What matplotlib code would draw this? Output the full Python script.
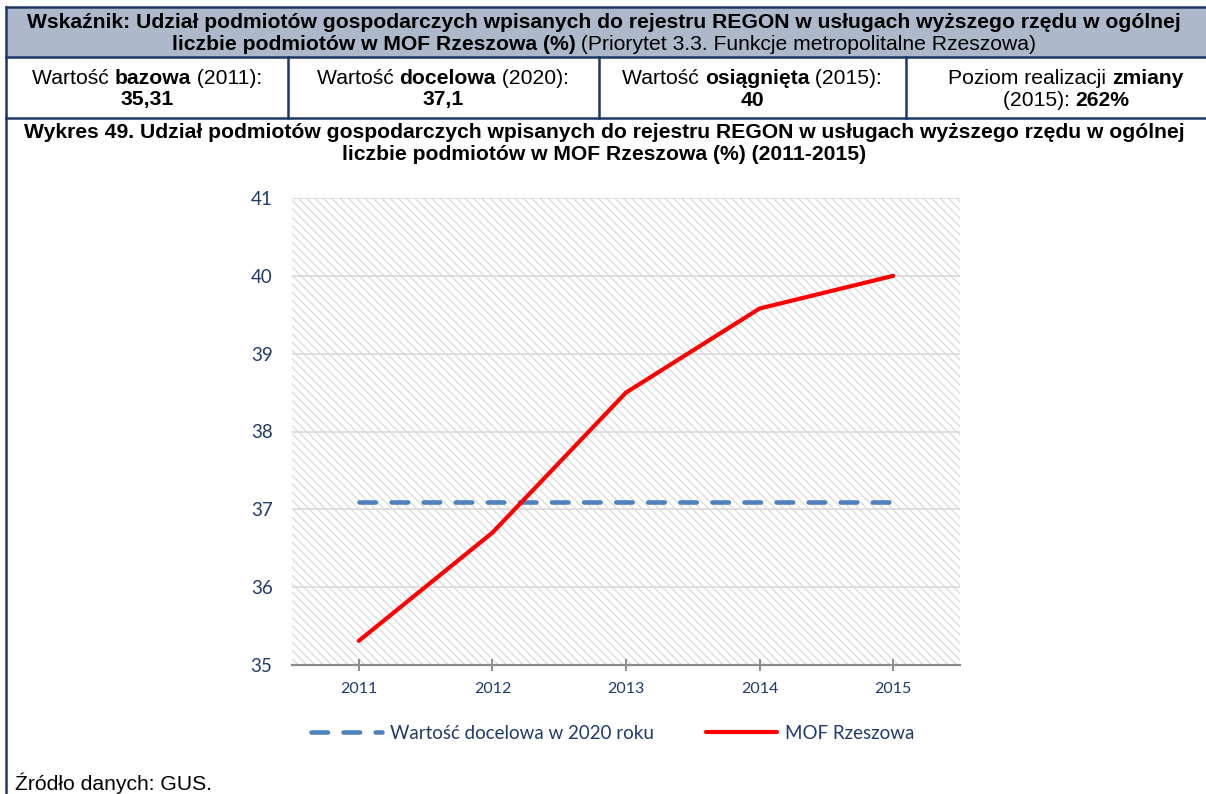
import matplotlib
matplotlib.use('Agg')
import matplotlib.pyplot as plt
from matplotlib.patches import Rectangle
from matplotlib.lines import Line2D

years = ['2011', '2012', '2013', '2014', '2015']
mof_rzeszowa = [35.31, 36.7, 38.5, 39.58, 40.0]
target_2020 = [37.1, 37.1, 37.1, 37.1, 37.1]
y_ticks = [35, 36, 37, 38, 39, 40, 41]

W, H = 1206, 794
NAVY = '#1f3864'
LABEL = '#1f3b6b'
HEAD_BG = '#adb9ca'

fig = plt.figure(figsize=(W / 100, H / 100), dpi=100)
renderer = fig.canvas.get_renderer()


def fx(x):
    return x / W


def fy(y):
    return 1 - y / H


def rich(xc, y, parts, size):
    # parts of mixed weight, centred together at pixel xc
    arts = []
    for txt, wt in parts:
        a = fig.text(0, fy(y), txt, fontsize=size, fontweight=wt, va='center', ha='left',
                     family='Liberation Sans', color='black')
        arts.append(a)
    widths = [a.get_window_extent(renderer).width for a in arts]
    x0 = xc - sum(widths) / 2
    for a, wd in zip(arts, widths):
        a.set_x(fx(x0))
        x0 += wd


# header frame
fig.patches.append(Rectangle((fx(6), fy(57)), fx(1206), 50 / H, transform=fig.transFigure,
                             facecolor=HEAD_BG, edgecolor='none'))
for (x1, y1, x2, y2) in [(6, 7, 1206, 7), (6, 57, 1206, 57), (6, 118, 1206, 118),
                         (6, 7, 6, 794), (288, 57, 288, 118), (599, 57, 599, 118), (906, 57, 906, 118)]:
    fig.add_artist(Line2D([fx(x1), fx(x2)], [fy(y1), fy(y2)], color=NAVY, lw=1.8,
                          transform=fig.transFigure))

hs = 15.2
rich(604, 23, [('Wskaźnik: Udział podmiotów gospodarczych wpisanych do rejestru REGON w usługach wyższego rzędu w ogólnej', 'bold')], hs)
rich(604, 45, [('liczbie podmiotów w MOF Rzeszowa (%)', 'bold'), (' (Priorytet 3.3. Funkcje metropolitalne Rzeszowa)', 'normal')], hs)

rich(147, 78, [('Wartość ', 'normal'), ('bazowa', 'bold'), (' (2011):', 'normal')], hs)
rich(147, 100, [('35,31', 'bold')], hs)
rich(443, 78, [('Wartość ', 'normal'), ('docelowa', 'bold'), (' (2020):', 'normal')], hs)
rich(443, 100, [('37,1', 'bold')], hs)
rich(752, 78, [('Wartość ', 'normal'), ('osiągnięta', 'bold'), (' (2015):', 'normal')], hs)
rich(752, 100, [('40', 'bold')], hs)
rich(1066, 78, [('Poziom realizacji ', 'normal'), ('zmiany', 'bold')], hs)
rich(1066, 100, [('(2015): ', 'normal'), ('262%', 'bold')], hs)

rich(604, 133, [('Wykres 49. Udział podmiotów gospodarczych wpisanych do rejestru REGON w usługach wyższego rzędu w ogólnej', 'bold')], hs)
rich(604, 154, [('liczbie podmiotów w MOF Rzeszowa (%) (2011-2015)', 'bold')], hs)

fig.text(fx(15), fy(772), 'Źródło danych: GUS.', fontsize=hs, family='Liberation Sans',
         va='top', ha='left')

# chart
ax = fig.add_axes([fx(292), fy(665), (960 - 292) / W, (665 - 198) / H])
ax.add_patch(Rectangle((0, 0), 1, 1, transform=ax.transAxes, facecolor='white',
                       edgecolor='#dcdcdc', lw=0, hatch='\\\\\\\\', zorder=0))
x = list(range(len(years)))
ax.plot(x, target_2020, color='#4f81bd', lw=3.3, dashes=(3.6, 3.4), dash_capstyle='round',
        zorder=3, label='Wartość docelowa w 2020 roku')
ax.plot(x, mof_rzeszowa, color='#ff0000', lw=3.0, solid_capstyle='round', zorder=4,
        label='MOF Rzeszowa')
ax.set_xlim(-0.5, len(years) - 0.5)
ax.set_ylim(35, 41)
ax.set_yticks(y_ticks)
ax.set_xticks(x)
ax.set_xticklabels(years)
ax.grid(axis='y', color='#d9d9d9', lw=1.2, zorder=1)
ax.set_axisbelow(True)
for s in ['left', 'right', 'top']:
    ax.spines[s].set_visible(False)
ax.spines['bottom'].set_color('#8c8c8c')
ax.spines['bottom'].set_linewidth(1.6)
ax.tick_params(axis='x', direction='inout', length=8, width=1.4, color='#8c8c8c',
               labelsize=11.5, labelcolor=LABEL, pad=8)
ax.tick_params(axis='y', length=0, labelsize=13.5, labelcolor=LABEL, pad=14)
for lab in ax.get_xticklabels() + ax.get_yticklabels():
    lab.set_family('Lato')

leg = ax.legend(loc='center', bbox_to_anchor=(0.48, -0.146), ncol=2, frameon=False,
                prop={'family': 'Lato', 'size': 13.5}, handlelength=3.8, columnspacing=2.8,
                handletextpad=0.4)
for t in leg.get_texts():
    t.set_color(LABEL)

fig.savefig('out.png', dpi=100)
